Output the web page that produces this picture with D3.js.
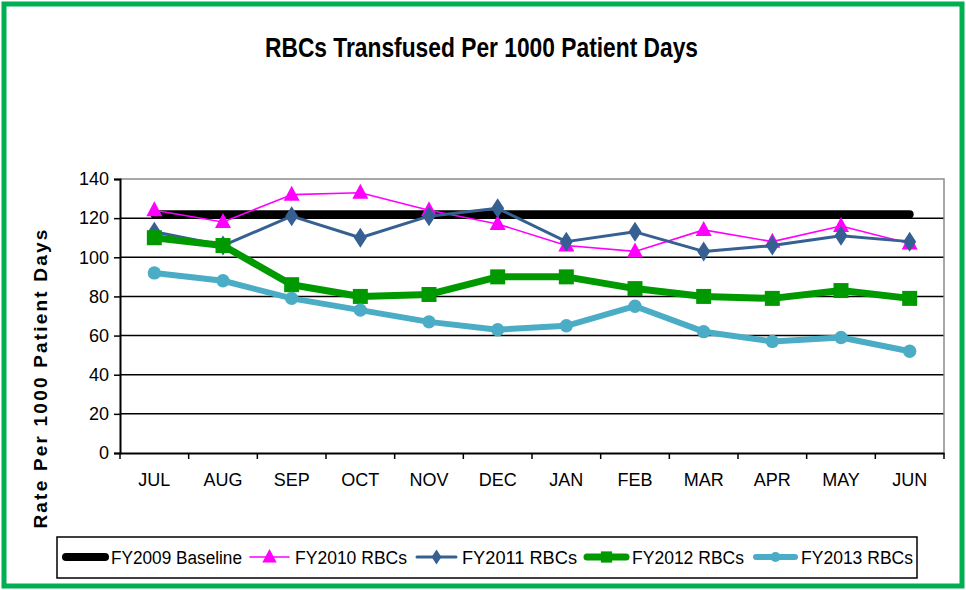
<!DOCTYPE html>
<html>
<head>
<meta charset="utf-8">
<script src="https://cdn.jsdelivr.net/npm/d3@7"></script>
<style>
  body { margin: 0; background: #fff; }
  svg { display: block; font-family: "Liberation Sans Narrow", "Arial Narrow", "Liberation Sans", Arial, sans-serif; }
</style>
</head>
<body>
<svg id="chart" width="966" height="590"></svg>
<script>
// month categories
var months = ['JUL', 'AUG', 'SEP', 'OCT', 'NOV', 'DEC', 'JAN', 'FEB', 'MAR', 'APR', 'MAY', 'JUN'];
var yTicks = [0, 20, 40, 60, 80, 100, 120, 140];

// series values
var fy2009 = [122, 122, 122, 122, 122, 122, 122, 122, 122, 122, 122, 122];
var fy2010 = [124, 118, 132, 133, 124, 117, 106, 103, 114, 108, 116, 107];
var fy2011 = [113, 106, 121, 110, 121, 125, 108, 113, 103, 106, 111, 108];
var fy2012 = [110, 106, 86, 80, 81, 90, 90, 84, 80, 79, 83, 79];
var fy2013 = [92, 88, 79, 73, 67, 63, 65, 75, 62, 57, 59, 52];

var seriesNames = ['FY2009 Baseline', 'FY2010 RBCs', 'FY2011 RBCs', 'FY2012 RBCs', 'FY2013 RBCs'];

var series = [
  {name: seriesNames[0], values: fy2009, color: '#000000', width: 8, marker: null},
  {name: seriesNames[1], values: fy2010, color: '#ff00ff', width: 1.6, marker: 'triangle'},
  {name: seriesNames[2], values: fy2011, color: '#366092', width: 3, marker: 'diamond'},
  {name: seriesNames[3], values: fy2012, color: '#009a00', width: 7, marker: 'square'},
  {name: seriesNames[4], values: fy2013, color: '#4bacc6', width: 6, marker: 'circle'}
];

var svg = d3.select('#chart');

// outer green frame
svg.append('rect')
  .attr('x', 4).attr('y', 4).attr('width', 958).attr('height', 582)
  .attr('fill', '#fff').attr('stroke', '#00b050').attr('stroke-width', 5);

svg.append('text')
  .attr('x', 265).attr('y', 57)
  .attr('font-size', 28).attr('font-weight', 'bold')
  .attr('textLength', 433).attr('lengthAdjust', 'spacingAndGlyphs')
  .text('RBCs Transfused Per 1000 Patient Days');

var margin = {top: 179, left: 120, right: 944, bottom: 453};

var x = d3.scaleBand().domain(months).range([margin.left, margin.right]);
var y = d3.scaleLinear().domain([0, 140]).range([margin.bottom, margin.top]);

// gridlines
svg.append('g')
  .selectAll('line')
  .data(yTicks.filter(function(d) { return d > 0 && d < 140; }))
  .join('line')
  .attr('x1', margin.left).attr('x2', margin.right)
  .attr('y1', function(d) { return y(d); }).attr('y2', function(d) { return y(d); })
  .attr('stroke', '#000').attr('stroke-width', 1.5);

// plot area border top/right
svg.append('path')
  .attr('d', 'M' + margin.left + ',' + margin.top + 'H' + margin.right + 'V' + margin.bottom)
  .attr('fill', 'none').attr('stroke', '#8c8c8c').attr('stroke-width', 1.5);

// y axis
var yAxis = svg.append('g')
  .attr('transform', 'translate(' + margin.left + ',0)')
  .call(d3.axisLeft(y).tickValues(yTicks).tickSize(6).tickPadding(5));
yAxis.select('.domain').attr('stroke', '#000').attr('stroke-width', 2);
yAxis.selectAll('.tick line').attr('stroke', '#000').attr('stroke-width', 1.5);
yAxis.selectAll('text').attr('font-size', 18).attr('fill', '#000').attr('font-family', 'inherit');

// x axis with ticks between categories
var xAxis = svg.append('g')
  .attr('transform', 'translate(0,' + margin.bottom + ')')
  .call(d3.axisBottom(x).tickSize(0).tickPadding(20));
xAxis.select('.domain').attr('stroke', '#000').attr('stroke-width', 2);
xAxis.selectAll('text').attr('font-size', 18).attr('fill', '#000').attr('font-family', 'inherit');
xAxis.selectAll('.sep')
  .data(months.map(function(m) { return x(m); }).concat([margin.right]))
  .join('line')
  .attr('class', 'sep')
  .attr('x1', function(d) { return d; }).attr('x2', function(d) { return d; })
  .attr('y1', 0).attr('y2', 6)
  .attr('stroke', '#000').attr('stroke-width', 1.5);

// y label
svg.append('text')
  .attr('transform', 'translate(47,378) rotate(-90)')
  .attr('text-anchor', 'middle')
  .attr('font-family', '"Liberation Sans", Arial, sans-serif')
  .attr('font-size', 19).attr('font-weight', 'bold')
  .attr('letter-spacing', 2.2)
  .text('Rate Per 1000 Patient Days');

var cx = function(i) { return x(months[i]) + x.bandwidth() / 2; };

var line = d3.line()
  .x(function(d, i) { return cx(i); })
  .y(function(d) { return y(d); });

function markerPath(type) {
  if (type === 'triangle') return 'M0,-9L8,6L-8,6Z';
  if (type === 'diamond') return 'M0,-10L6.5,0L0,10L-6.5,0Z';
  if (type === 'square') return 'M-7.5,-7.5H7.5V7.5H-7.5Z';
  if (type === 'circle') return d3.symbol(d3.symbolCircle, 140)();
  return '';
}

series.forEach(function(s) {
  var g = svg.append('g');
  g.append('path')
    .datum(s.values)
    .attr('d', line)
    .attr('fill', 'none')
    .attr('stroke', s.color)
    .attr('stroke-width', s.width)
    .attr('stroke-linejoin', 'round')
    .attr('stroke-linecap', 'round');
  if (s.marker) {
    g.selectAll('.mk')
      .data(s.values)
      .join('path')
      .attr('class', 'mk')
      .attr('transform', function(d, i) { return 'translate(' + cx(i) + ',' + y(d) + ')'; })
      .attr('d', markerPath(s.marker))
      .attr('fill', s.color);
  }
});

// legend
var legend = svg.append('g');
legend.append('rect')
  .attr('x', 57).attr('y', 537).attr('width', 860).attr('height', 41)
  .attr('fill', '#fff').attr('stroke', '#000').attr('stroke-width', 1.5);

var legendX = [63, 247, 414, 584, 753];
var legendW = [131, 112, 115, 112, 112];
series.forEach(function(s, i) {
  var lg = legend.append('g').attr('transform', 'translate(' + legendX[i] + ',557)');
  var lw = 45;
  lg.append('line')
    .attr('x1', 3).attr('x2', lw - 3)
    .attr('stroke', s.color).attr('stroke-width', s.width)
    .attr('stroke-linecap', 'round');
  if (s.marker) {
    lg.append('path')
      .attr('transform', 'translate(' + (lw / 2) + ',0) scale(' + (s.marker === 'triangle' ? 0.9 : 0.75) + ')')
      .attr('d', markerPath(s.marker))
      .attr('fill', s.color);
  }
  lg.append('text')
    .attr('x', lw + 3).attr('y', 6.5)
    .attr('font-size', 18)
    .attr('textLength', legendW[i]).attr('lengthAdjust', 'spacingAndGlyphs')
    .text(s.name);
});
</script>
</body>
</html>
